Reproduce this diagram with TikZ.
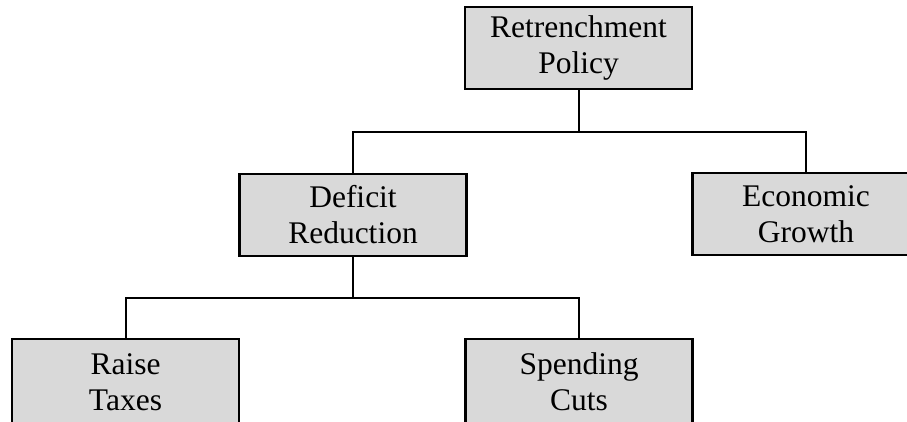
\documentclass[tikz,border=0pt]{standalone}
\usepackage{fontspec}
\setmainfont{Liberation Serif}
\begin{document}
\begin{tikzpicture}[x=1pt,y=-1pt,
  box/.style={draw=black, line width=2.6pt, fill=boxgray, minimum width=227pt, minimum height=82pt,
    inner sep=0pt, align=center, font=\fontsize{31.5}{36}\selectfont},
  conn/.style={draw=black, line width=2pt}]
\definecolor{boxgray}{HTML}{D9D9D9}
\useasboundingbox (0,0) rectangle (907,421);
\clip (0,0) rectangle (907,421);
\node[box] (rp) at (578.5,48) {Retrenchment\\Policy};
\node[box] (dr) at (353,215) {Deficit\\Reduction};
\node[box] (eg) at (806,214) {Economic\\Growth};
\node[box, minimum height=86pt] (rt) at (125.5,382) {Raise\\Taxes};
\node[box, minimum height=86pt] (sc) at (579,382) {Spending\\Cuts};
\coordinate (j1) at (578.5,132);
\coordinate (j2) at (353,298);
\draw[conn] (rp.south) -- (j1) -| (dr.north);
\draw[conn] (j1) -| (eg.north);
\draw[conn] (dr.south) -- (j2) -| (rt.north);
\draw[conn] (j2) -| (sc.north);
\end{tikzpicture}
\end{document}
